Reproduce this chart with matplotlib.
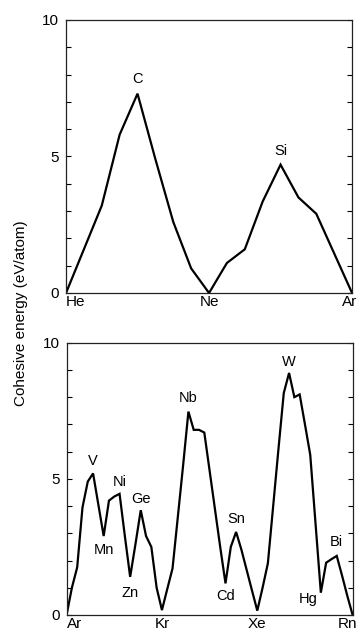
import numpy as np
import matplotlib.pyplot as plt
from matplotlib.ticker import MultipleLocator
from matplotlib.transforms import offset_copy

plt.rcParams['font.family'] = ['Liberation Sans', 'DejaVu Sans']

# period 2-3: He ... Ar
top_elems = ['He', 'Li', 'Be', 'B', 'C', 'N', 'O', 'F', 'Ne',
             'Na', 'Mg', 'Al', 'Si', 'P', 'S', 'Cl', 'Ar']
top_energy = [0.0, 1.6, 3.2, 5.8, 7.3, 4.9, 2.6, 0.9, 0.0,
              1.1, 1.6, 3.35, 4.7, 3.5, 2.9, 1.45, 0.0]

# period 4-6: Ar ... Rn (lanthanides left out)
bot_elems = ['Ar', 'K', 'Ca', 'Sc', 'Ti', 'V', 'Cr', 'Mn', 'Fe', 'Co', 'Ni', 'Cu', 'Zn',
             'Ga', 'Ge', 'As', 'Se', 'Br', 'Kr',
             'Rb', 'Sr', 'Y', 'Zr', 'Nb', 'Mo', 'Tc', 'Ru', 'Rh', 'Pd', 'Ag', 'Cd',
             'In', 'Sn', 'Sb', 'Te', 'I', 'Xe',
             'Cs', 'Ba', 'La', 'Hf', 'Ta', 'W', 'Re', 'Os', 'Ir', 'Pt', 'Au', 'Hg',
             'Tl', 'Pb', 'Bi', 'Po', 'At', 'Rn']
bot_energy = [0.0, 1.0, 1.75, 3.95, 4.9, 5.2, 4.05, 2.9, 4.2, 4.35, 4.45, 2.9, 1.4,
              2.6, 3.85, 2.9, 2.5, 1.0, 0.18,
              0.95, 1.71, 3.6, 5.5, 7.47, 6.8, 6.8, 6.7, 5.3, 3.9, 2.5, 1.16,
              2.5, 3.05, 2.4, 1.65, 0.9, 0.16,
              1.0, 1.9, 4.0, 6.1, 8.15, 8.89, 8.0, 8.1, 7.0, 5.88, 3.35, 0.82,
              1.92, 2.05, 2.17, 1.45, 0.7, 0.0]

top_ticks = ['He', 'Ne', 'Ar']
bot_ticks = ['Ar', 'Kr', 'Xe', 'Rn']

# labelled elements: (name, dx, dy) offsets in data units
top_labels = [('C', 0, 0.55), ('Si', 0, 0.5)]
bot_labels = [('V', 0, 0.45), ('Mn', 0, -0.5), ('Ni', 0, 0.45), ('Ge', 0, 0.42),
              ('Zn', 0, -0.6), ('Nb', 0, 0.5), ('Sn', 0, 0.47), ('Cd', 0, -0.45),
              ('W', 0, 0.4), ('Hg', -2.4, -0.25), ('Bi', 0, 0.5)]

fig = plt.figure(figsize=(3.58, 6.35), dpi=100)
ax1 = fig.add_axes([0.1844, 0.5386, 0.799, 0.430])
ax2 = fig.add_axes([0.186, 0.0315, 0.799, 0.4288])


def draw(ax, elems, energy, ticks, labels):
    x = np.arange(len(elems))
    ax.plot(x, energy, color='black', lw=1.6, solid_joinstyle='miter')
    ax.set_xlim(0, len(elems) - 1)
    ax.set_ylim(0, 10)
    ax.set_yticks([0, 5, 10])
    ax.yaxis.set_minor_locator(MultipleLocator(1))
    ax.tick_params(axis='y', which='both', direction='in', left=True, right=True,
                   length=3.5, width=0.8, labelsize=11, pad=5)
    ax.set_xticks([elems.index(t) for t in ticks])
    ax.set_xticklabels(ticks)
    ax.tick_params(axis='x', length=0, labelsize=11, pad=1.5)
    tl = ax.get_xticklabels()
    tl[0].set_horizontalalignment('left')
    tl[-1].set_horizontalalignment('right')
    tl[-1].set_transform(offset_copy(tl[-1].get_transform(), fig=fig, x=5, y=0, units='dots'))
    for s in ax.spines.values():
        s.set_linewidth(0.9)
        s.set_color('#222222')
    for name, dx, dy in labels:
        i = elems.index(name)
        ax.text(i + dx, energy[i] + dy, name, ha='center', va='center', fontsize=10.5)


draw(ax1, top_elems, top_energy, top_ticks, top_labels)
draw(ax2, bot_elems, bot_energy, bot_ticks, bot_labels)

fig.text(0.059, 0.507, 'Cohesive energy (eV/atom)', rotation=90,
         ha='center', va='center', fontsize=11)

fig.savefig('out.png', dpi=100)
